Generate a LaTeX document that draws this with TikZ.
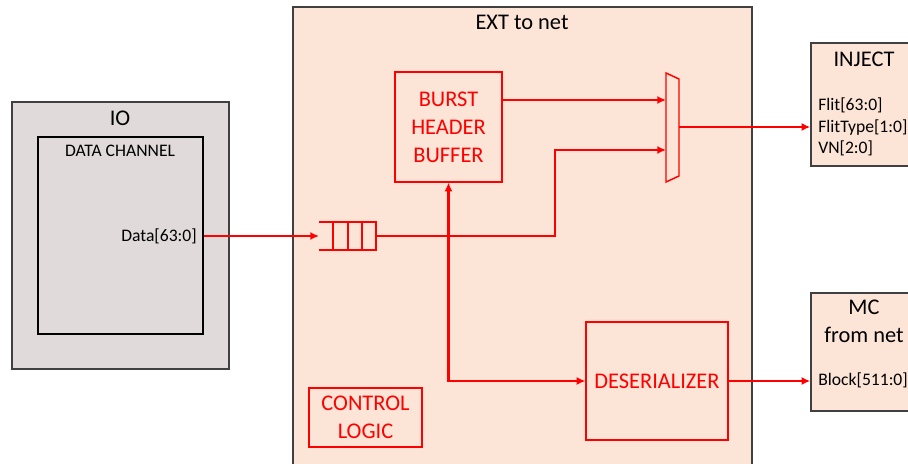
\documentclass[tikz,border=0pt]{standalone}
\usepackage{fontspec}
\setmainfont{Carlito}
\usepackage{tikz}
\usepackage{xcolor}
\usetikzlibrary{arrows.meta}
\definecolor{peach}{HTML}{FCE4D6}
\definecolor{iogray}{HTML}{E0DADB}
\definecolor{edge}{HTML}{404040}

\begin{document}
\begin{tikzpicture}[x=0.75pt,y=-0.75pt,
    block/.style={draw=edge, line width=1pt, inner sep=0pt},
    redbox/.style={draw=red, line width=0.9pt, text=red, align=center, inner sep=0pt, font=\fontsize{16.8}{21}\selectfont},
    sig/.style={draw=red, line width=2.1pt, -{Latex[length=6.5pt,width=6pt]}},
    big/.style={font=\fontsize{16.8}{21}\selectfont, align=center, inner sep=0pt},
    port/.style={font=\fontsize{13.2}{16}\selectfont, align=left, inner sep=0pt}
]
\useasboundingbox (0,0) rectangle (908,464);

% IO side
\node[block, fill=iogray, minimum width=162.75pt, minimum height=200.25pt] (io) at (120.5,235.5) {};
\node[big] (iolbl) at (120,118) {IO};
\node[draw=black, line width=0.8pt, inner sep=0pt, minimum width=123.75pt, minimum height=147.75pt] (dc) at (120.5,235.5) {};
\node[port] (dclbl) at (120,151) {DATA CHANNEL};
\node[port, anchor=east] (data) at (197,236) {Data[63:0]};

% EXT to net
\node[block, fill=peach, minimum width=344.25pt, minimum height=351pt] (ext) at (522.5,241) {};
\node[big] (extlbl) at (522,22) {EXT to net};

\node[redbox, minimum width=80.25pt, minimum height=82.5pt] (buf) at (448.5,127) {BURST\\HEADER\\BUFFER};
\node[redbox, minimum width=106.5pt, minimum height=88.5pt] (deser) at (657,381) {DESERIALIZER};
\node[redbox, minimum width=84.75pt, minimum height=44.25pt] (ctrl) at (365.5,417.5) {CONTROL\\LOGIC};

% queue
\draw[red, line width=1.1pt] (319,222) -- (376,222) -- (376,250) -- (319,250);
\foreach \qx in {333,348,362}
    \draw[red, line width=1.1pt] (\qx,222) -- (\qx,250);
\coordinate (q-in) at (319,236);
\coordinate (q-out) at (376,236);

% mux
\draw[red, line width=1.1pt] (666,73) -- (679,79) -- (679,176) -- (666,182) -- cycle;
\coordinate (mux-a) at (666,100);
\coordinate (mux-b) at (666,150);
\coordinate (mux-o) at (679,127);
\coordinate (bend) at (555,150);

% outside blocks
\node[block, fill=peach, minimum width=79.5pt, minimum height=92.25pt] (inj) at (864,104.5) {};
\node[big] (injlbl) at (864,59) {INJECT};
\node[port, anchor=west] (injport) at (818,127) {Flit[63:0]\\FlitType[1:0]\\VN[2:0]};

\node[block, fill=peach, minimum width=79.5pt, minimum height=88.5pt] (mc) at (864,352) {};
\node[big] (mclbl) at (864,321) {MC\\from net};
\node[port, anchor=west] (block) at (818,380) {Block[511:0]};

% connectors
\draw[sig] (dc.east |- q-in) -- (q-in);
\draw[sig] (q-out) -| (bend) -- (mux-b);
\draw[sig] (buf.east |- mux-a) -- (mux-a);
\draw[sig] (mux-o) -- (inj.west |- mux-o);
\draw[sig, {Latex[length=6.5pt,width=6pt]}-{Latex[length=6.5pt,width=6pt]}] (buf.south) |- (deser.west);
\draw[sig] (deser.east) -- (mc.west |- deser.east);

\end{tikzpicture}
\end{document}
